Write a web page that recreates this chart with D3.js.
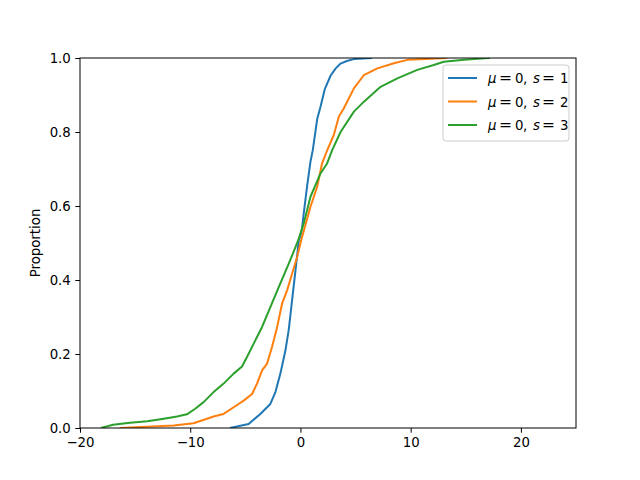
<!DOCTYPE html>
<html>
<head>
<meta charset="utf-8">
<script src="https://cdn.jsdelivr.net/npm/d3@7"></script>
<style>
  body { margin: 0; background: #fff; }
  text { font-family: "DejaVu Sans", sans-serif; }
</style>
</head>
<body>
<div id="chart"></div>
<script>
// ECDF: x value and cumulative proportion per series
const labels = ["1", "2", "3"];

const xS1 = [-6.4, -4.7, -3.64, -2.73, -2.27, -1.82, -1.36, -1.06, -0.76, -0.45, -0.15, 0, 0.15, 0.3, 0.61, 0.91, 1.12, 1.52, 1.82, 2.2, 2.73, 3.2, 3.64, 4.2, 4.85, 6.06, 6.5];
const pS1 = [0, 0.011, 0.038, 0.065, 0.097, 0.147, 0.21, 0.266, 0.345, 0.426, 0.507, 0.52, 0.54, 0.58, 0.655, 0.72, 0.751, 0.835, 0.868, 0.915, 0.952, 0.972, 0.985, 0.992, 0.997, 0.999, 1];

const xS2 = [-16.4, -11.5, -9.7, -8.48, -7.88, -6.97, -6.06, -5.15, -4.39, -3.94, -3.48, -3.03, -2.58, -2.15, -1.67, -1.21, -0.76, -0.3, 0.06, 0.15, 0.91, 1.52, 1.97, 2.42, 3.03, 3.48, 3.94, 4.85, 5.76, 6.97, 8.48, 9.7, 11.8, 13.3];
const pS2 = [0, 0.007, 0.013, 0.025, 0.031, 0.038, 0.056, 0.074, 0.092, 0.12, 0.156, 0.174, 0.219, 0.268, 0.336, 0.372, 0.417, 0.462, 0.507, 0.516, 0.598, 0.652, 0.716, 0.75, 0.792, 0.841, 0.864, 0.918, 0.954, 0.972, 0.986, 0.995, 0.998, 1];

const xS3 = [-18.1, -17, -15.45, -13.9, -12.4, -11.2, -10.3, -9.55, -8.79, -7.88, -6.97, -6.06, -5.3, -4.85, -4.24, -3.48, -2.73, -1.97, -1.06, -0.45, -0.15, 0.3, 0.91, 1.82, 2.42, 2.88, 3.64, 4.85, 5.76, 7.27, 8.79, 10.6, 12.1, 13.0, 14.85, 16.7, 17.2];
const pS3 = [0, 0.009, 0.014, 0.018, 0.025, 0.031, 0.037, 0.052, 0.07, 0.097, 0.12, 0.147, 0.166, 0.192, 0.228, 0.273, 0.327, 0.381, 0.444, 0.489, 0.512, 0.553, 0.625, 0.688, 0.715, 0.751, 0.80, 0.855, 0.882, 0.922, 0.945, 0.968, 0.981, 0.99, 0.995, 0.999, 1];

const xTicks = [-20, -10, 0, 10, 20];
const yTicks = [0, 0.2, 0.4, 0.6, 0.8, 1.0];

const series = [
  { s: labels[0], xs: xS1, ps: pS1, color: "#1f77b4" },
  { s: labels[1], xs: xS2, ps: pS2, color: "#ff7f0e" },
  { s: labels[2], xs: xS3, ps: pS3, color: "#2ca02c" },
];

const width = 640, height = 480;
const margin = { top: 58, right: 64, bottom: 52, left: 80 };

const svg = d3.select("#chart").append("svg")
  .attr("width", width)
  .attr("height", height);

const x = d3.scaleLinear().domain([-20, 25]).range([margin.left, width - margin.right]);
const y = d3.scaleLinear().domain([0, 1]).range([height - margin.bottom, margin.top]);

svg.append("clipPath").attr("id", "clip")
  .append("rect")
  .attr("x", margin.left).attr("y", margin.top)
  .attr("width", width - margin.left - margin.right)
  .attr("height", height - margin.top - margin.bottom);

const line = d3.line()
  .x(d => x(d[0]))
  .y(d => y(d[1]));

const plot = svg.append("g").attr("clip-path", "url(#clip)");
series.forEach(d => {
  plot.append("path")
    .datum(d.xs.map((v, i) => [v, d.ps[i]]))
    .attr("d", line)
    .attr("fill", "none")
    .attr("stroke", d.color)
    .attr("stroke-width", 2)
    .attr("stroke-linejoin", "round");
});

// axes
const fmtX = v => v < 0 ? "\u2212" + Math.abs(v) : String(v);
const xAxis = svg.append("g")
  .attr("transform", `translate(0,${height - margin.bottom})`)
  .call(d3.axisBottom(x).tickValues(xTicks).tickFormat(fmtX).tickSizeOuter(0).tickSize(4.7).tickPadding(4.5));
const yAxis = svg.append("g")
  .attr("transform", `translate(${margin.left},0)`)
  .call(d3.axisLeft(y).tickValues(yTicks).tickFormat(d3.format(".1f")).tickSizeOuter(0).tickSize(4.7).tickPadding(4.5));

[xAxis, yAxis].forEach(a => {
  a.select(".domain").remove();
  a.selectAll("line").attr("stroke", "#000").attr("stroke-width", 1);
  a.selectAll("text").attr("fill", "#000").style("font-size", "13.3px");
});

// frame
svg.append("rect")
  .attr("x", margin.left).attr("y", margin.top)
  .attr("width", width - margin.left - margin.right)
  .attr("height", height - margin.top - margin.bottom)
  .attr("fill", "none").attr("stroke", "#000").attr("stroke-width", 1);

svg.append("text")
  .attr("transform", `translate(40,${(margin.top + height - margin.bottom) / 2}) rotate(-90)`)
  .attr("text-anchor", "middle")
  .style("font-size", "13.3px")
  .text("Proportion");

// legend
const legend = svg.append("g").attr("transform", "translate(443,65)");
legend.append("rect")
  .attr("width", 126).attr("height", 76)
  .attr("rx", 3)
  .attr("fill", "#fff").attr("fill-opacity", 0.8)
  .attr("stroke", "#cccccc").attr("stroke-width", 1);

// mathtext pieces, x offsets inside the legend box
const parts = [
  { x: 45, t: "\u03bc", italic: true },
  { x: 56, t: "=", big: true },
  { x: 72, t: "0" },
  { x: 80, t: "," },
  { x: 90, t: "s", italic: true },
  { x: 99, t: "=", big: true },
];

series.forEach((d, i) => {
  const g = legend.append("g").attr("transform", `translate(0,${13 + i * 23.5})`);
  g.append("line")
    .attr("x1", 5).attr("x2", 34)
    .attr("stroke", d.color).attr("stroke-width", 2);
  parts.concat([{ x: 117, t: d.s }]).forEach(p => {
    g.append("text")
      .attr("x", p.x).attr("y", 5)
      .style("font-size", p.big ? "15.5px" : "13.3px")
      .style("font-style", p.italic ? "italic" : "normal")
      .text(p.t);
  });
});
</script>
</body>
</html>
